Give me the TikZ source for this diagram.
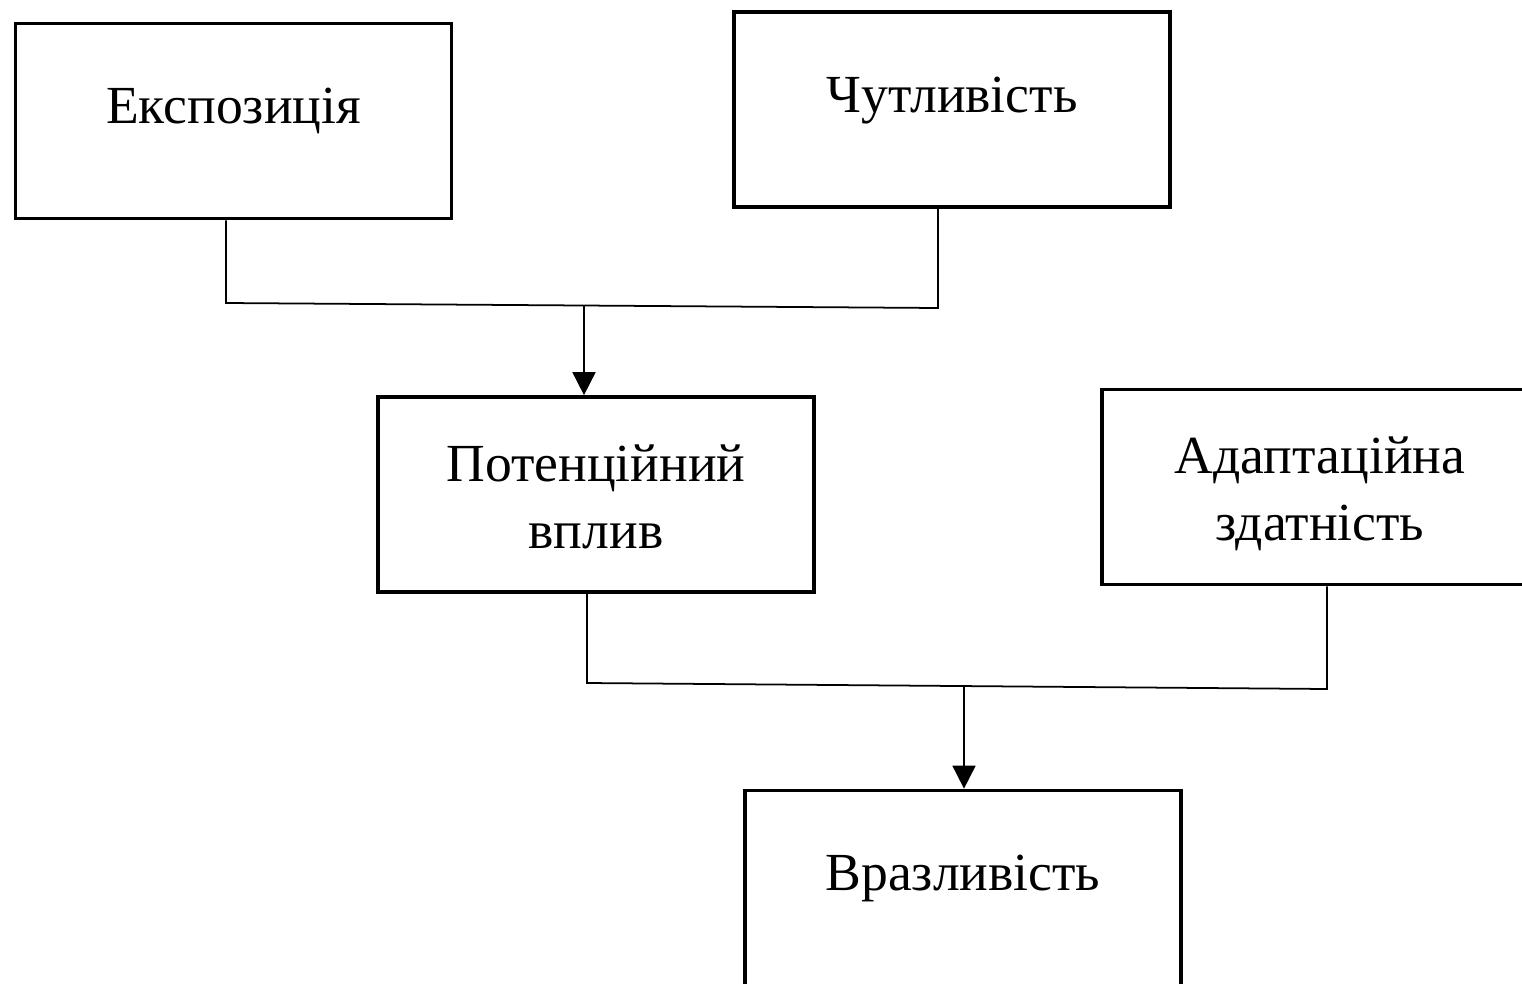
\documentclass[tikz,border=0pt]{standalone}
\usepackage{fontspec}
\setmainfont{Liberation Serif}
\usetikzlibrary{arrows.meta,positioning}
\tikzstyle{factor} = [rectangle, minimum width=8.72cm, minimum height=3.9cm, text centered, align=center, draw=black, line width=0.075cm, font=\fontsize{30.5}{38}\selectfont, text height=18pt, text depth=15pt]
\tikzstyle{twoline} = [text height=66pt, text depth=5pt]
\tikzstyle{link} = [line width=1pt]
\tikzstyle{arrow} = [line width=1pt, -{Triangle[length=0.46cm,width=0.46cm]}]

\begin{document}
\begin{tikzpicture}[x=0.02cm,y=-0.02cm]
\clip (0,0) rectangle (1522,984);
% Factors
\node[factor] (expo) at (233.5,121) {Експозиція};
\node[factor] (sens) at (952,109.5) {Чутливість};
\node[factor, twoline] (pot) at (596,494.5) {Потенційний\\вплив};
\node[factor, twoline] (adapt) at (1320,487) {Адаптаційна\\здатність};
\node[factor] (vuln) at (963,888) {Вразливість};

% Junctions
\coordinate (expoDown) at (226,303);
\coordinate (sensDown) at (938,308);
\coordinate (join1) at (584,306);
\coordinate (potDown) at (587,683);
\coordinate (adaptDown) at (1327,689);
\coordinate (join2) at (964,687);

% Connectors
\draw[link] (expo.south -| expoDown) -- (expoDown) -- (sensDown) -- (sens.south -| sensDown);
\draw[arrow] (join1) -- (pot.north -| join1);
\draw[link] (pot.south -| potDown) -- (potDown) -- (adaptDown) -- (adapt.south -| adaptDown);
\draw[arrow] (join2) -- (vuln.north -| join2);
\end{tikzpicture}
\end{document}
